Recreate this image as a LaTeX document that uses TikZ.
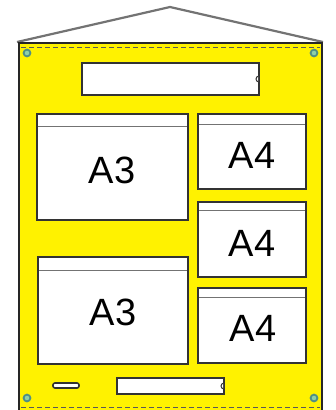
\documentclass[tikz,border=0pt]{standalone}
\usepackage{fontspec}
\setmainfont{Liberation Sans}
\definecolor{BannerYellow}{HTML}{FFF200}
\definecolor{EyeletRing}{HTML}{4F8F86}
\definecolor{EyeletCore}{HTML}{8FD0A8}

\begin{document}
\begin{tikzpicture}[
  x=1pt, y=-1pt,
  panel/.style  = {draw=black!85, line width=2.2pt},
  pocket/.style = {fill=white, draw=black!80, line width=2pt},
  lip/.style    = {draw=black!55, line width=0.9pt},
  hem/.style    = {draw=black!65, line width=1pt, dash pattern=on 5pt off 3pt},
  eyelet/.style = {fill=EyeletCore, draw=EyeletRing, line width=1.8pt},
  notch/.style  = {fill=white, draw=black!80, line width=1pt},
  size/.style   = {font=\fontsize{38}{38}\selectfont, inner sep=0pt}
]
\useasboundingbox (0,0) rectangle (336,410);

%% ---- hanger and banner ------------------------------------------------
\draw[black!55, line width=2.2pt, line join=round] (17,42) -- (170,7) -- (323,42);
\fill[BannerYellow] (19,43) rectangle (322,412);
\draw[panel] (19,412) -- (19,43) -- (322,43) -- (322,412);
\draw[hem] (21,47) -- (320,47);
\draw[hem] (21,407) -- (320,407);

\foreach \ex/\ey in {27/53, 314/53, 27/398, 314/398}
  \draw[eyelet] (\ex,\ey) circle (3.4pt);

%% ---- header strip and bottom strip -------------------------------------
\draw[pocket] (82,63) rectangle (259,95);
\begin{scope}
  \clip (250,70) rectangle (258,88);
  \draw[notch] (259,79) circle (3pt);
\end{scope}
\draw[pocket] (117,378) rectangle (224,394);
\begin{scope}
  \clip (215,378) rectangle (223,394);
  \draw[notch] (224,386) circle (3pt);
\end{scope}
\draw[pocket, line width=1.6pt, rounded corners=2pt] (53,383) rectangle (79,388);

%% ---- A3 pockets (left) --------------------------------------------------
\draw[pocket] (37,114) rectangle (188,220);
\draw[lip] (38,126) -- (187,126);
\node[size] (a3top) at (112,170) {A3};

\draw[pocket] (38,257) rectangle (188,364);
\draw[lip] (39,270) -- (187,270);
\node[size] (a3bot) at (113,312) {A3};

%% ---- A4 pockets (right) -------------------------------------------------
\draw[pocket] (198,114) rectangle (306,189);
\draw[lip] (199,124) -- (305,124);
\node[size] (a4top) at (252,155) {A4};

\draw[pocket] (198,202) rectangle (306,277);
\draw[lip] (199,210) -- (305,210);
\node[size] (a4mid) at (252,243) {A4};

\draw[pocket] (198,288) rectangle (306,363);
\draw[lip] (199,297) -- (305,297);
\node[size] (a4bot) at (253,328) {A4};

\end{tikzpicture}
\end{document}
